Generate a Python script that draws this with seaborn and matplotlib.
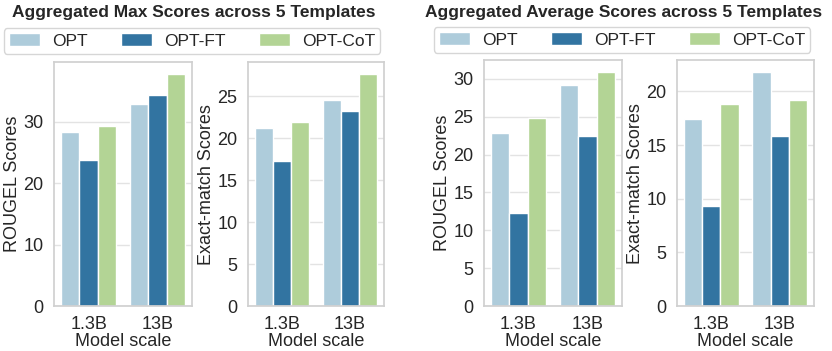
import matplotlib
matplotlib.use("Agg")
import matplotlib.pyplot as plt
from matplotlib.ticker import MultipleLocator
import seaborn as sns
import pandas as pd

# values
scales = ["1.3B", "13B"]
models = ["OPT", "OPT-FT", "OPT-CoT"]

max_rouge = {"OPT": [28.3, 32.9], "OPT-FT": [23.7, 34.4], "OPT-CoT": [29.3, 37.8]}
max_em = {"OPT": [21.2, 24.6], "OPT-FT": [17.3, 23.2], "OPT-CoT": [22.0, 27.7]}
avg_rouge = {"OPT": [22.9, 29.2], "OPT-FT": [12.3, 22.4], "OPT-CoT": [24.9, 30.9]}
avg_em = {"OPT": [17.4, 21.8], "OPT-FT": [9.3, 15.8], "OPT-CoT": [18.8, 19.2]}

titles = ["Aggregated Max Scores across 5 Templates",
          "Aggregated Average Scores across 5 Templates"]


def to_frame(scores):
    rows = []
    for m in models:
        for s, v in zip(scales, scores[m]):
            rows.append({"Model scale": s, "Model": m, "Score": v})
    return pd.DataFrame(rows)


sns.set_theme(style="whitegrid")
plt.rcParams["font.family"] = ["Liberation Sans", "DejaVu Sans"]
plt.rcParams["grid.color"] = "#e3e3e3"

fig = plt.figure(figsize=(8.32, 3.51), dpi=100)

panels = [
    (max_rouge, "ROUGEL Scores", [0.065, 0.128, 0.166, 0.695], 10),
    (max_em, "Exact-match Scores", [0.298, 0.128, 0.1635, 0.695], 5),
    (avg_rouge, "ROUGEL Scores", [0.5817, 0.128, 0.166, 0.700], 5),
    (avg_em, "Exact-match Scores", [0.8137, 0.128, 0.1647, 0.700], 5),
]

palette = sns.color_palette("Paired", 3)
axes = []
for scores, ylab, rect, step in panels:
    ax = fig.add_axes(rect)
    sns.barplot(data=to_frame(scores), x="Model scale", y="Score", hue="Model",
                palette=palette, ax=ax, legend=False)
    ax.yaxis.set_major_locator(MultipleLocator(step))
    ax.set_ylabel(ylab, fontsize=13, labelpad=2)
    ax.set_xlabel("Model scale", fontsize=13, labelpad=0)
    ax.tick_params(axis="both", labelsize=13, pad=1.5)
    ax.set_xlim(-0.5, 1.5)
    for sp in ax.spines.values():
        sp.set_color("#d0d0d0")
    axes.append(ax)

fig.text(194 / 832, 1 - 13 / 351, titles[0], ha="center", va="center",
         fontsize=12.5, fontweight="bold")
fig.text(624 / 832, 1 - 13 / 351, titles[1], ha="center", va="center",
         fontsize=12.5, fontweight="bold")

# one bar per hue level (seaborn adds bars hue by hue)
handles = [axes[0].patches[i * len(scales)] for i in range(len(models))]
for cx, cy in [(192, 41), (622, 40)]:
    fig.legend(handles, models, loc="center", bbox_to_anchor=(cx / 832, 1 - cy / 351),
               ncol=3, fontsize=12.5, frameon=True, handlelength=1.8,
               handletextpad=0.7, columnspacing=1.9, borderpad=0.3)

fig.savefig("out.png", dpi=100)
